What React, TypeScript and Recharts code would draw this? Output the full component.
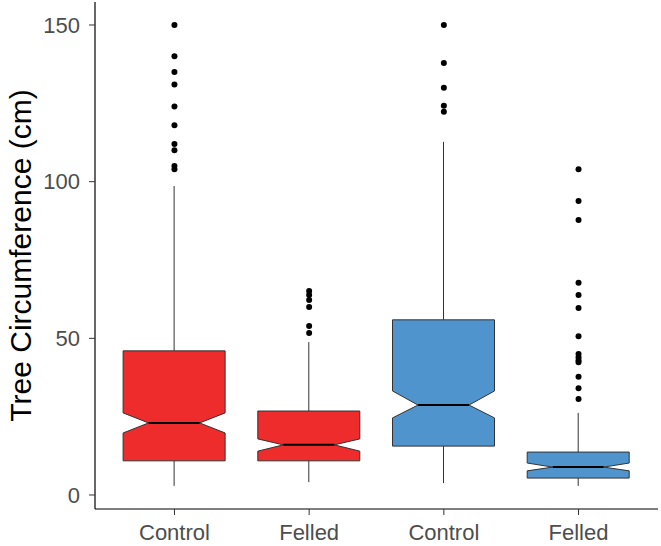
import { ComposedChart, Bar, Scatter, XAxis, YAxis } from 'recharts'

const CATEGORIES = ['Control', 'Felled', 'Control', 'Felled']
const FILLS = ['#EE2C2C', '#EE2C2C', '#4F94CD', '#4F94CD']
const WHISKER_LOW = [2.9, 4.1, 3.8, 2.9]
const Q1 = [10.9, 10.9, 15.6, 5.4]
const NOTCH_LOW = [19.8, 14.0, 24.6, 7.7]
const MEDIAN = [23.0, 16.0, 28.7, 8.9]
const NOTCH_HIGH = [26.2, 17.9, 33.2, 10.2]
const Q3 = [46.0, 26.8, 55.9, 13.7]
const WHISKER_HIGH = [98.6, 48.8, 112.7, 26.2]
const OUTLIERS = [
  [150, 140, 135, 131, 124, 118, 112, 110, 105, 104],
  [65.1, 63.8, 62.2, 60.0, 53.9, 51.7],
  [150, 137.9, 130, 124.2, 122.3],
  [104.0, 93.8, 87.8, 67.7, 63.8, 59.7, 50.7, 45.0, 44.0, 43.0, 42.4, 37.7, 34.1, 30.6],
]
const Y_TICKS = [0, 50, 100, 150]
const X_TICKS = [1, 2, 3, 4]

const boxData = CATEGORIES.map((name, i) => ({
  x: i + 1,
  name,
  fill: FILLS[i],
  lo: WHISKER_LOW[i],
  q1: Q1[i],
  notchLo: NOTCH_LOW[i],
  med: MEDIAN[i],
  notchHi: NOTCH_HIGH[i],
  q3: Q3[i],
  hi: WHISKER_HIGH[i],
  range: [WHISKER_LOW[i], WHISKER_HIGH[i]],
}))

const outlierData = OUTLIERS.flatMap((vals, i) => vals.map((v) => ({ x: i + 1, y: v })))

const LINE = '#333333'

function NotchedBox(props: any) {
  const { x, y, width, height, payload } = props
  const top = Math.min(y, y + height)
  const h = Math.abs(height)
  const span = payload.hi - payload.lo
  // map values with the bar's own pixel extent (whisker low..high)
  const py = (v: number) => top + ((payload.hi - v) / span) * h
  const x0 = x
  const x1 = x + width
  const cx = x + width / 2
  const inset = width / 4
  const pts = [
    [x0, py(payload.q3)],
    [x0, py(payload.notchHi)],
    [x0 + inset, py(payload.med)],
    [x0, py(payload.notchLo)],
    [x0, py(payload.q1)],
    [x1, py(payload.q1)],
    [x1, py(payload.notchLo)],
    [x1 - inset, py(payload.med)],
    [x1, py(payload.notchHi)],
    [x1, py(payload.q3)],
  ]
    .map((p) => p.join(','))
    .join(' ')
  return (
    <g>
      <line x1={cx} x2={cx} y1={py(payload.hi)} y2={py(payload.q3)} stroke={LINE} strokeWidth={1} />
      <line x1={cx} x2={cx} y1={py(payload.q1)} y2={py(payload.lo)} stroke={LINE} strokeWidth={1} />
      <polygon points={pts} fill={payload.fill} stroke={LINE} strokeWidth={1} />
      <line
        x1={x0 + inset}
        x2={x1 - inset}
        y1={py(payload.med)}
        y2={py(payload.med)}
        stroke="#000"
        strokeWidth={2}
      />
    </g>
  )
}

function Dot(props: any) {
  return <circle cx={props.cx} cy={props.cy} r={3} fill="#000" />
}

function YTitle(props: any) {
  const { viewBox } = props
  const cx = viewBox.x + 20
  const cy = viewBox.y + viewBox.height / 2
  return (
    <text
      x={cx}
      y={cy}
      transform={`rotate(-90 ${cx} ${cy})`}
      textAnchor="middle"
      dominantBaseline="central"
      fontSize={30}
      fill="#000"
    >
      Tree Circumference (cm)
    </text>
  )
}

export default function App() {
  return (
    <div style={{ position: 'absolute', left: 0, top: 0, fontFamily: '"Liberation Sans", Arial, sans-serif' }}>
      <ComposedChart
        width={661}
        height={546}
        data={boxData}
        margin={{ top: 2, right: 3, bottom: 0, left: 0 }}
      >
        <XAxis
          type="number"
          dataKey="x"
          domain={[0.41, 4.59]}
          ticks={X_TICKS}
          tickFormatter={(v: number) => CATEGORIES[v - 1]}
          height={37}
          tickSize={6}
          tickMargin={9}
          axisLine={{ stroke: '#000', strokeWidth: 1.2 }}
          tickLine={{ stroke: LINE }}
          tick={{ fontSize: 22, fill: '#4D4D4D' }}
          allowDataOverflow
        />
        <YAxis
          type="number"
          dataKey="y"
          domain={[-4.47, 157.34]}
          ticks={Y_TICKS}
          width={95}
          tickSize={6}
          tickMargin={9}
          axisLine={{ stroke: '#000', strokeWidth: 1.2 }}
          tickLine={{ stroke: LINE }}
          tick={{ fontSize: 22, fill: '#4D4D4D' }}
          allowDataOverflow
          label={<YTitle />}
        />
        <Bar dataKey="range" barSize={102} shape={<NotchedBox />} isAnimationActive={false} />
        <Scatter data={outlierData} dataKey="y" shape={<Dot />} isAnimationActive={false} />
      </ComposedChart>
    </div>
  )
}
